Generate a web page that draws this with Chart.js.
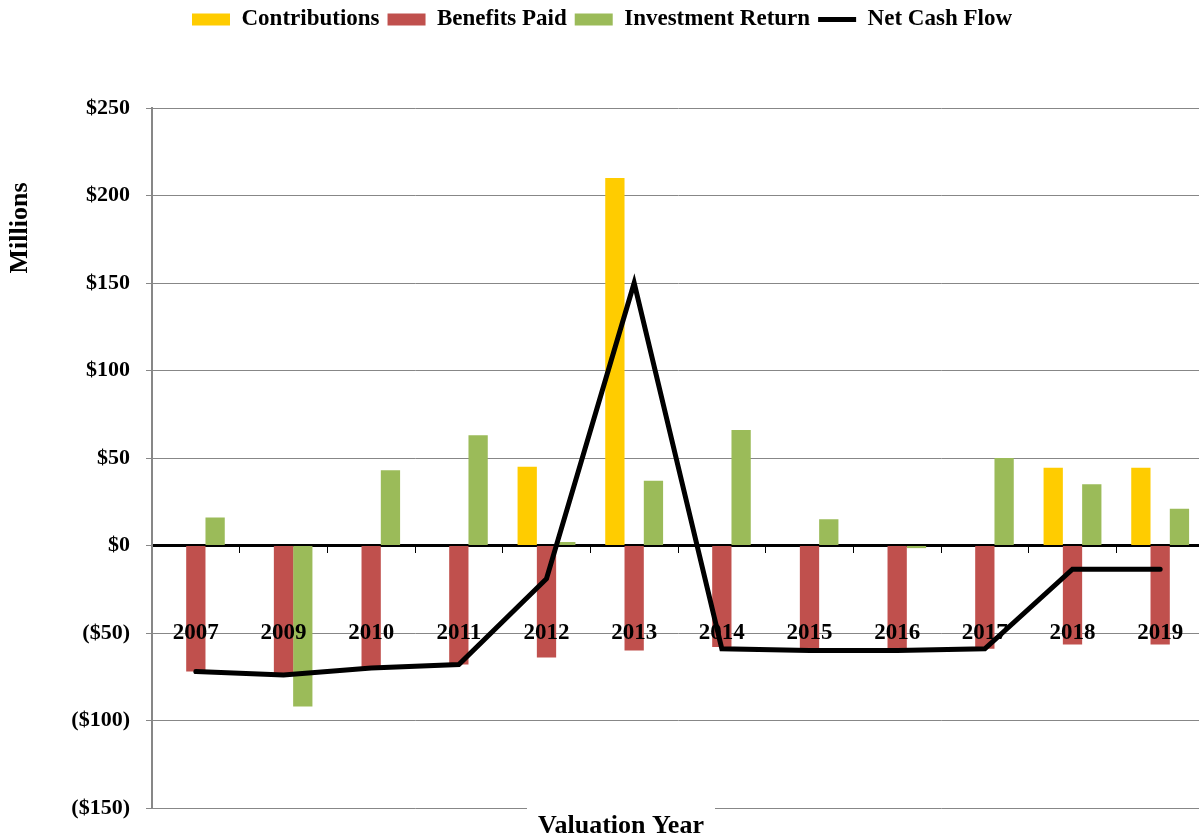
<!DOCTYPE html>
<html>
<head>
<meta charset="utf-8">
<script src="https://cdn.jsdelivr.net/npm/chart.js@4"></script>
<style>
  html, body { margin: 0; padding: 0; background: #fff; overflow: hidden; }
  #wrap { width: 1210px; height: 838px; }
</style>
</head>
<body>
<div id="wrap"><canvas id="cashChart" width="1210" height="838"></canvas></div>
<script>
// values, in $ millions
const years = ['2007', '2009', '2010', '2011', '2012', '2013', '2014', '2015', '2016', '2017', '2018', '2019'];
const contributions = [0, 0, 0, 0, 45, 210, 0, 0, 0, 0, 44.5, 44.5];
const benefitsPaid = [-72, -73, -70, -68, -64, -60, -58, -59, -59, -59, -56.5, -56.5];
const investmentReturn = [16, -92, 43, 63, 2, 37, 66, 15, -1.5, 50, 35, 21];
const netCashFlow = [-72, -74, -70, -68, -19, 150, -59, -60, -60, -59, -13.5, -13.5];

const yMin = -150, yMax = 250, yStep = 50;
const labelLevel = -50; // excel put the year labels on this line

const serif = '"Liberation Serif", "Times New Roman", serif';

function money(v) {
  return v < 0 ? '($' + (-v) + ')' : '$' + v;
}

// push the plot down below the legend
const legendGap = {
  id: 'legendGap',
  beforeInit(chart) {
    const fit = chart.legend.fit;
    chart.legend.fit = function () {
      fit.bind(chart.legend)();
      this.height += 67;
    };
  }
};

// year labels sit on the -50 line, over the bars but under the line
const yearLabels = {
  id: 'yearLabels',
  beforeDatasetDraw(chart, args) {
    if (args.meta.type !== 'line') return;
    const ctx = chart.ctx;
    const x = chart.scales.x, y = chart.scales.y;
    ctx.save();
    ctx.font = 'bold 23px ' + serif;
    ctx.fillStyle = '#000';
    ctx.textAlign = 'center';
    ctx.textBaseline = 'middle';
    years.forEach((yr, i) => {
      ctx.fillText(yr, x.getPixelForValue(i), y.getPixelForValue(labelLevel));
    });
    ctx.restore();
  }
};

const axisTitles = {
  id: 'axisTitles',
  afterDraw(chart) {
    const ctx = chart.ctx;
    const area = chart.chartArea;
    ctx.save();
    ctx.font = 'bold 26px ' + serif;
    ctx.fillStyle = '#000';
    ctx.textAlign = 'center';
    ctx.textBaseline = 'middle';
    // "Millions" up the left side, near the top
    ctx.save();
    ctx.translate(20, 228);
    ctx.rotate(-Math.PI / 2);
    ctx.fillText('Millions', 0, 0);
    ctx.restore();
    // "Valuation Year" box cuts the bottom line
    ctx.fillStyle = '#fff';
    ctx.fillRect(527, area.bottom - 4, 188, 40);
    ctx.fillStyle = '#000';
    ctx.fillText('Valuation Year', 621, 826);
    ctx.restore();
  }
};

const ctx = document.getElementById('cashChart').getContext('2d');

new Chart(ctx, {
  type: 'bar',
  data: {
    labels: years,
    datasets: [
      { label: 'Contributions', data: contributions, backgroundColor: '#FFCC00', order: 1 },
      { label: 'Benefits Paid', data: benefitsPaid, backgroundColor: '#C0504D', order: 1 },
      { label: 'Investment Return', data: investmentReturn, backgroundColor: '#9BBB59', order: 1 },
      {
        type: 'line', label: 'Net Cash Flow', data: netCashFlow,
        borderColor: '#000', backgroundColor: '#000', borderWidth: 5,
        pointRadius: 0, tension: 0, borderCapStyle: 'round', order: 0
      }
    ]
  },
  options: {
    responsive: false,
    animation: false,
    layout: { padding: { top: 0, left: 0, right: 6, bottom: 30 } },
    datasets: {
      bar: { categoryPercentage: 0.66, barPercentage: 1 }
    },
    plugins: {
      legend: {
        position: 'top',
        labels: {
          color: '#000',
          font: { family: serif, size: 23, weight: 'bold' },
          usePointStyle: true,
          pointStyleWidth: 38,
          boxHeight: 12,
          padding: 8,
          generateLabels(chart) {
            const items = Chart.defaults.plugins.legend.labels.generateLabels(chart);
            items.forEach(it => {
              it.pointStyle = it.datasetIndex === 3 ? 'line' : 'rect';
            });
            return items.sort((a, b) => a.datasetIndex - b.datasetIndex);
          }
        }
      },
      tooltip: { enabled: false }
    },
    scales: {
      x: {
        position: { y: 0 },
        grid: { drawOnChartArea: false, drawTicks: true, tickLength: 6, color: '#000', offset: true },
        border: { color: '#000', width: 3 },
        ticks: { display: false }
      },
      y: {
        min: yMin,
        max: yMax,
        afterFit(scale) { scale.width = 152; },
        ticks: {
          stepSize: yStep,
          padding: 16,
          color: '#000',
          font: { family: serif, size: 22, weight: 'bold' },
          callback: v => money(v)
        },
        grid: { color: '#878787', lineWidth: 1, tickLength: 6 },
        border: { color: '#878787', width: 2 }
      }
    }
  },
  plugins: [legendGap, yearLabels, axisTitles]
});
</script>
</body>
</html>
